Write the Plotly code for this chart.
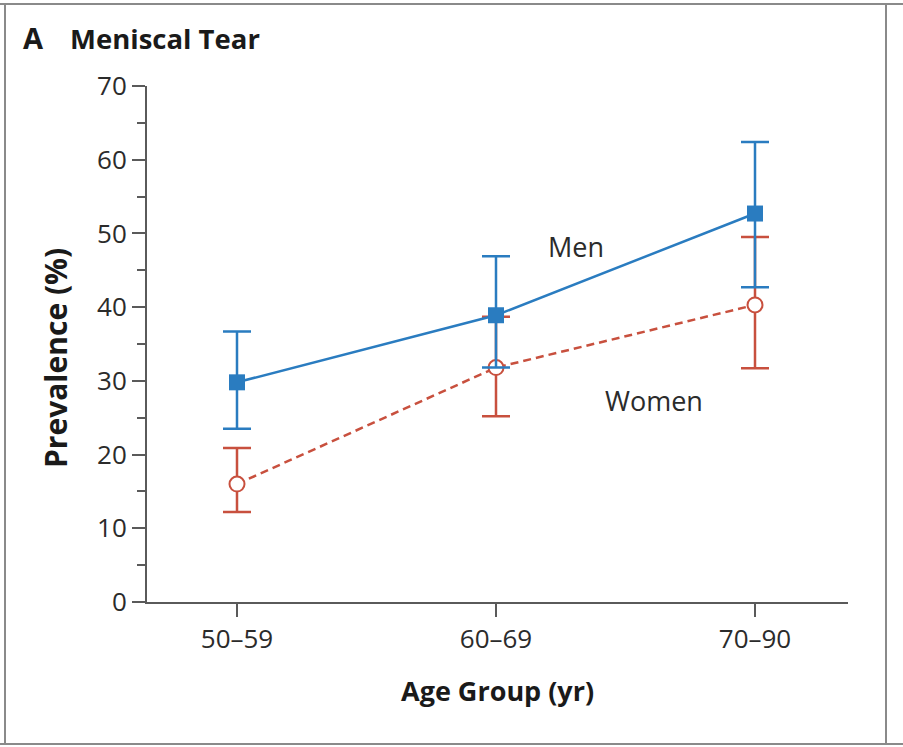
import plotly.graph_objects as go

# ---- data ----
age_groups = ["50–59", "60–69", "70–90"]
men_prev = [29.8, 38.9, 52.7]
men_lo = [23.5, 31.8, 42.7]
men_hi = [36.7, 46.9, 62.4]
women_prev = [16.0, 31.8, 40.3]
women_lo = [12.2, 25.2, 31.7]
women_hi = [20.9, 38.7, 49.5]
y_ticks = [0, 10, 20, 30, 40, 50, 60, 70]

W, H = 903, 747
L, R, T, B = 147, 848, 86, 602

BLUE = "#2a7cc0"
RED = "#c8503e"
AXIS = "#5a5a5a"
TXT = "#2b2b2b"
FONT = "Open Sans"

def eb(vals, lo, hi, color):
    return dict(type="data", symmetric=False,
                array=[h - v for h, v in zip(hi, vals)],
                arrayminus=[v - l for v, l in zip(vals, lo)],
                color=color, thickness=2.5, width=14)

fig = go.Figure()
fig.add_trace(go.Scatter(
    x=[0, 1, 2], y=women_prev, mode="lines+markers",
    line=dict(color=RED, width=2.5, dash="8px,5px"),
    marker=dict(symbol="circle", size=15, color="white",
                line=dict(color=RED, width=2)),
    error_y=eb(women_prev, women_lo, women_hi, RED),
    cliponaxis=False, name="Women"))
fig.add_trace(go.Scatter(
    x=[0, 1, 2], y=men_prev, mode="lines+markers",
    line=dict(color=BLUE, width=2.5),
    marker=dict(symbol="square", size=16, color=BLUE),
    error_y=eb(men_prev, men_lo, men_hi, BLUE),
    cliponaxis=False, name="Men"))

# x range from pixel positions of categories (237, 496, 755)
step = 259.0
x0 = -(237 - L) / step
x1 = x0 + (R - L) / step

fig.update_layout(
    width=W, height=H,
    margin=dict(l=L, r=W - R, t=T, b=H - B, pad=0),
    paper_bgcolor="white", plot_bgcolor="white",
    showlegend=False,
    font=dict(family=FONT, color=TXT, size=25),
    xaxis=dict(range=[x0, x1], tickmode="array", tickvals=[0, 1, 2],
               ticktext=age_groups, showgrid=False, zeroline=False,
               showline=True, linecolor=AXIS, linewidth=2,
               ticks="outside", ticklen=13, tickwidth=2, tickcolor=AXIS,
               tickfont=dict(size=26, color=TXT, family=FONT)),
    yaxis=dict(range=[0, 70], tickmode="array", tickvals=y_ticks,
               showgrid=False, zeroline=False,
               showline=True, linecolor=AXIS, linewidth=2,
               ticks="outside", ticklen=13, tickwidth=2, tickcolor=AXIS,
               tickfont=dict(size=26, color=TXT, family=FONT),
               minor=dict(dtick=5, ticks="outside", ticklen=8,
                          tickwidth=2, tickcolor=AXIS, showgrid=False)),
)

def px_x(px):
    return (px - L) / (R - L)

def px_y(py):
    return (B - py) / (B - T)

ann = [
    dict(text="<b>A</b>", x=px_x(21), y=px_y(37), xanchor="left", yanchor="middle",
         font=dict(size=29, color="#1a1a1a")),
    dict(text="<b>Meniscal Tear</b>", x=px_x(68), y=px_y(38), xanchor="left",
         yanchor="middle", font=dict(size=27.5, color="#1a1a1a")),
    dict(text="<b>Prevalence (%)</b>", x=px_x(55), y=px_y(358), xanchor="center",
         yanchor="middle", textangle=-90, font=dict(size=30, color="#1a1a1a")),
    dict(text="<b>Age Group (yr)</b>", x=px_x(497), y=px_y(690), xanchor="center",
         yanchor="middle", font=dict(size=27, color="#1a1a1a")),
    dict(text="Men", x=px_x(576), y=px_y(246), xanchor="center", yanchor="middle",
         font=dict(size=27, color=TXT)),
    dict(text="Women", x=px_x(654), y=px_y(400), xanchor="center", yanchor="middle",
         font=dict(size=27, color=TXT)),
]
for a in ann:
    a.update(xref="paper", yref="paper", showarrow=False)
fig.update_layout(annotations=ann)

# panel frame
frame = dict(color="#8a8a8a", width=2)
shapes = [
    dict(type="line", x0=px_x(0), x1=px_x(W), y0=px_y(4), y1=px_y(4), line=frame),
    dict(type="line", x0=px_x(0), x1=px_x(W), y0=px_y(744), y1=px_y(744), line=frame),
    dict(type="line", x0=px_x(5), x1=px_x(5), y0=px_y(4), y1=px_y(744), line=frame),
    dict(type="line", x0=px_x(886), x1=px_x(886), y0=px_y(4), y1=px_y(744), line=frame),
]
for s in shapes:
    s.update(xref="paper", yref="paper", layer="above")
fig.update_layout(shapes=shapes)

fig.write_html("out.html", config={"displayModeBar": False},
               post_script="document.body.style.margin='0';document.body.style.overflow='hidden';")
